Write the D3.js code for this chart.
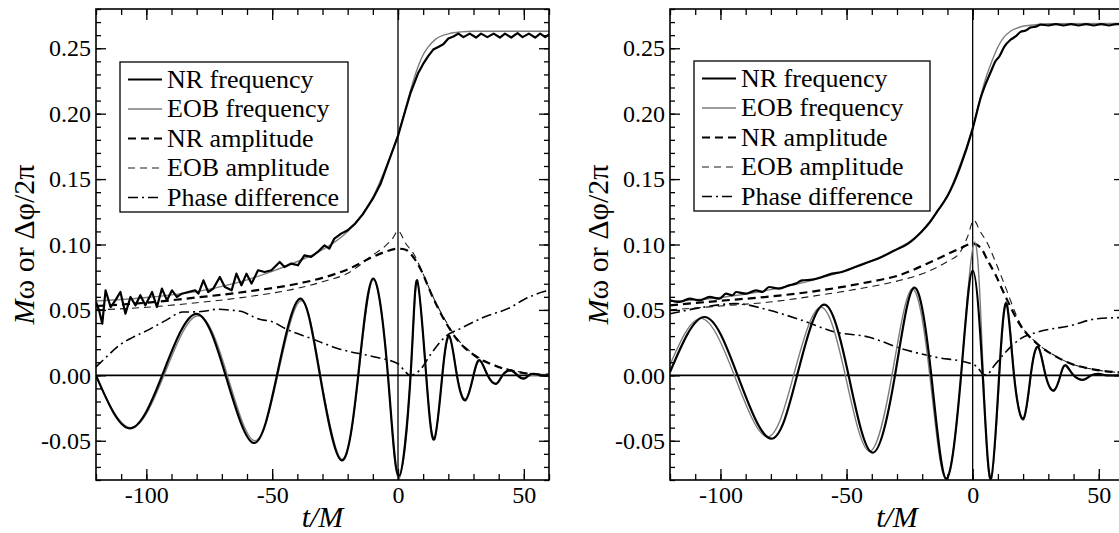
<!DOCTYPE html>
<html><head><meta charset="utf-8">
<script src="https://cdn.jsdelivr.net/npm/d3@7"></script>
</head><body style="margin:0;background:#fff">
<svg id="chart" width="1119" height="533" font-family="Liberation Serif" style="display:block"></svg>
<script>
// ---------------- data (t/M, value) ----------------
const xTickValues = [-100, -50, 0, 50];
const xTickLabels = ["-100", "-50", "0", "50"];
const yTickValues = [-0.05, 0, 0.05, 0.10, 0.15, 0.20, 0.25];
const yTickLabels = ["-0.05", "0.00", "0.05", "0.10", "0.15", "0.20", "0.25"];
const legendLabels = ["NR frequency", "EOB frequency", "NR amplitude", "EOB amplitude", "Phase difference"];
const xDomain = [-120, 60];
const yDomain = [-0.08, 0.28];

// Left panel
const leftFreqNR = [[-120,0.0561],[-118.8,0.0497],[-117.5,0.0395],[-116.2,0.065],[-114.2,0.0522],[-112.3,0.0573],[-110.3,0.0637],[-108.3,0.0471],[-106.3,0.0599],[-104.3,0.0535],[-102.4,0.0612],[-100.4,0.0535],[-97.7,0.0637],[-95.8,0.0522],[-93.8,0.0663],[-91.8,0.0573],[-89.8,0.065],[-87.9,0.0599],[-85.9,0.0624],[-83.3,0.0637],[-80.6,0.065],[-79.3,0.0624],[-77.3,0.0726],[-75.4,0.0637],[-73.4,0.0663],[-70.8,0.0752],[-68.8,0.0675],[-66.1,0.065],[-64.2,0.0777],[-62.2,0.0688],[-60.2,0.0777],[-58.2,0.0701],[-55.6,0.0803],[-53.0,0.079],[-50.3,0.0803],[-47,0.0866],[-45.1,0.0828],[-42.4,0.0854],[-39.8,0.0841],[-37.2,0.0917],[-34.5,0.0905],[-31.9,0.0943],[-29.2,0.0994],[-27.3,0.0968],[-25.3,0.1045],[-22.6,0.1083],[-20,0.1109],[-17,0.116],[-14,0.123],[-10,0.135],[-7,0.146],[-4,0.162],[0,0.183],[3,0.203],[5,0.216],[8,0.231],[10,0.238],[12,0.244],[14,0.249],[16,0.251],[18,0.253],[20,0.2575],[22,0.259],[24,0.2612],[26,0.2585],[28.5,0.2612],[31,0.2582],[33,0.2612],[35.5,0.2585],[38,0.2612],[40.5,0.2582],[42.5,0.2612],[45,0.2582],[47.5,0.2615],[49.5,0.2585],[52,0.2612],[54.5,0.2582],[56.5,0.2612],[58.5,0.2585],[60,0.2605]];
const leftFreqEOB = [[-120,0.0568],[-110,0.058],[-100,0.0595],[-90,0.0615],[-80,0.064],[-70,0.068],[-60,0.073],[-50,0.0795],[-40,0.087],[-30,0.096],[-20,0.110],[-15,0.121],[-10,0.136],[-5,0.158],[0,0.184],[3,0.204],[5,0.218],[8,0.236],[10,0.245],[12,0.251],[15,0.257],[20,0.261],[25,0.2625],[30,0.263],[60,0.263]];
const leftAmpNR = [[-120,0.053],[-100,0.0555],[-80,0.0595],[-60,0.0640],[-40,0.070],[-30,0.0745],[-20,0.081],[-10,0.0905],[-5,0.0945],[0,0.0968],[3,0.096],[6.5,0.0892],[9.2,0.0803],[13.2,0.0624],[18.5,0.042],[23.7,0.0268],[30.3,0.0153],[38.2,0.0076],[47.4,0.0025],[55,0.0008],[60,0.0005]];
const leftAmpEOB = [[-120,0.050],[-100,0.052],[-80,0.0555],[-60,0.060],[-40,0.0665],[-30,0.0715],[-20,0.078],[-10,0.092],[-5,0.099],[-2,0.105],[0,0.1105],[3,0.101],[6.5,0.092],[9.2,0.081],[13.2,0.063],[18.5,0.043],[23.7,0.0275],[30.3,0.016],[38.2,0.008],[47.4,0.003],[55,0.001],[60,0.0005]];
const leftPhase = [[-120,0.0064],[-115.9,0.014],[-110.7,0.023],[-105.4,0.029],[-100,0.034],[-92.2,0.042],[-85.6,0.0484],[-80,0.0485],[-76.4,0.0492],[-72,0.0505],[-66,0.0497],[-62,0.0488],[-58,0.0452],[-55.3,0.043],[-50,0.041],[-44.8,0.0357],[-34.3,0.028],[-23.7,0.0204],[-9.2,0.014],[0,0.0089],[2.7,0.0033],[4.7,0.0],[8.7,0.004],[13.2,0.0166],[18.5,0.029],[25.1,0.036],[34.3,0.0446],[44.8,0.052],[50.1,0.058],[58,0.064],[60,0.065]];
const leftWaveNR = [[-120,0],[-106.7,-0.0405],[-93.7,0],[-80.3,0.047],[-68.5,0],[-57.3,-0.0517],[-48.1,0],[-38.9,0.0586],[-31,0],[-22.4,-0.065],[-15.8,0],[-9.9,0.074],[-4,0],[0.3,-0.077],[5.0,0],[7.6,0.0726],[11.2,0],[14.4,-0.049],[17.6,0],[20.4,0.030],[23.4,0],[26.8,-0.019],[30,0],[32.5,0.0115],[35.6,0],[39,-0.0065],[41.5,0],[44.8,0.0038],[47.5,0],[50,-0.0025],[52,0],[54,0.0012],[57,0],[60,0]];
const leftWaveEOB = [[-120,-0.001],[-106.2,-0.040],[-93.0,0],[-79.6,0.0455],[-67.8,0],[-57.0,-0.050],[-47.8,0],[-38.6,0.057],[-30.8,0],[-22.3,-0.064],[-15.7,0],[-9.8,0.073],[-4,0],[0.3,-0.079],[5.0,0],[7.7,0.071],[11.2,0],[14.5,-0.048],[17.6,0],[20.5,0.029],[23.5,0],[26.9,-0.018],[30.1,0],[32.6,0.011],[35.7,0],[39.1,-0.006],[41.6,0],[44.9,0.0035],[47.6,0],[50.1,-0.002],[53,0],[60,0]];

// Right panel
const rightFreqNR = [[-120,0.0573],[-116.1,0.0561],[-112.2,0.0586],[-108.3,0.0573],[-104.3,0.0599],[-100.4,0.0586],[-97.8,0.0624],[-95.2,0.0612],[-93.8,0.0637],[-89.9,0.0624],[-85.9,0.065],[-83.3,0.0637],[-80.7,0.0675],[-76.8,0.0663],[-72.8,0.0688],[-70.2,0.0701],[-67.6,0.0726],[-63.7,0.0731],[-59.7,0.0752],[-55.8,0.0777],[-51.9,0.079],[-46.6,0.0828],[-41.3,0.0866],[-36.1,0.0905],[-30.8,0.0956],[-25.6,0.1007],[-20.4,0.1096],[-17,0.117],[-13.8,0.126],[-10,0.137],[-5,0.159],[0,0.1886],[3.3,0.2128],[5,0.222],[7.2,0.232],[9,0.240],[10.5,0.2435],[12.5,0.251],[15,0.2565],[17,0.259],[19,0.2625],[21,0.2635],[23,0.266],[25,0.2665],[27,0.268],[30,0.2675],[33,0.2685],[36,0.2675],[39,0.2685],[42,0.2675],[45,0.2685],[48,0.2675],[51,0.2685],[54,0.2675],[57,0.2685],[60,0.268]];
const rightFreqEOB = [[-120,0.0565],[-100,0.0595],[-80,0.0655],[-60,0.0745],[-40,0.0875],[-30,0.0965],[-20,0.110],[-14,0.125],[-10,0.137],[-5,0.161],[0,0.189],[3.3,0.214],[5,0.226],[7.2,0.238],[10,0.251],[12.5,0.2587],[15,0.263],[19,0.2663],[25,0.268],[30,0.2688],[60,0.269]];
const rightAmpNR = [[-120,0.0535],[-100,0.057],[-81.7,0.060],[-60,0.065],[-41.3,0.0713],[-30,0.076],[-15.1,0.088],[-5,0.097],[0,0.1007],[3,0.098],[5.9,0.088],[9,0.077],[12.5,0.0624],[19,0.038],[25.6,0.024],[32.2,0.0153],[38.8,0.009],[46.7,0.005],[55.9,0.0025],[60,0.002]];
const rightAmpEOB = [[-120,0.050],[-100,0.053],[-80.6,0.056],[-60,0.0615],[-41.3,0.0675],[-30,0.072],[-15.1,0.0816],[-10,0.087],[-5,0.094],[-2,0.106],[0.4,0.1185],[3,0.110],[5.9,0.1007],[9,0.087],[12.5,0.070],[19,0.039],[25.6,0.0245],[32.2,0.0155],[38.8,0.009],[46.7,0.005],[55.9,0.0025],[60,0.002]];
const rightPhase = [[-120,0.047],[-107,0.052],[-94,0.0548],[-80.6,0.0497],[-67.6,0.042],[-54.5,0.0331],[-41.3,0.0293],[-28.2,0.0204],[-15,0.014],[-0.7,0.009],[2,0.006],[4,0.001],[5.5,0.0],[8,0.006],[12.5,0.0166],[19,0.028],[25.6,0.033],[38.8,0.038],[49.3,0.0433],[60,0.0442]];
const rightWaveNR = [[-120,0.0025],[-106.3,0.0446],[-93.2,0],[-80,-0.0484],[-69.6,0],[-59,0.054],[-49.2,0],[-39.8,-0.0591],[-30.8,0],[-23.2,0.067],[-16.4,0],[-10.5,-0.079],[-4.6,0],[0,0.080],[4.0,0],[7.2,-0.079],[10.5,0],[13.4,0.0548],[16.4,0],[20.1,-0.0331],[23,0],[25.9,0.0217],[28.9,0],[32.2,-0.0115],[34.8,0],[36.8,0.0076],[40,0],[44,-0.0033],[47,0],[50.5,0.001],[53,0],[60,0]];
const rightWaveEOB = [[-120,0.008],[-107.5,0.0435],[-94.5,0],[-81.5,-0.047],[-71,0],[-60.3,0.052],[-50.5,0],[-41,-0.058],[-32,0],[-24,0.066],[-17,0],[-10.8,-0.079],[-4.6,0],[0.8,0.102],[4.2,0],[7.3,-0.081],[10.6,0],[13.5,0.056],[16.5,0],[20.2,-0.034],[23.1,0],[26,0.022],[29,0],[32.3,-0.012],[34.9,0],[37,0.008],[40.1,0],[44.1,-0.0035],[47.1,0],[50.6,0.001],[53,0],[60,0]];

// ---------------- layout / styles ----------------
const FONT = "Liberation Serif";
const svg = d3.select("#chart");
const plotTop = 9, plotBottom = 480;
const styles = {
  freqNR:  {stroke: "#000", width: 2.2, dash: null},
  freqEOB: {stroke: "#7c7c7c", width: 1.4, dash: null},
  ampNR:   {stroke: "#000", width: 2.2, dash: "8,5"},
  ampEOB:  {stroke: "#1a1a1a", width: 1.1, dash: "7,5"},
  phase:   {stroke: "#000", width: 1.6, dash: "10,4,2,4"}
};
const legendKeys = ["freqNR", "freqEOB", "ampNR", "ampEOB", "phase"];

const panels = [
  {x0: 96, x1: 549, labelX: 34, legend: {x: 120, y: 62, w: 228, h: 150},
   series: [
     {d: leftPhase, s: "phase", curve: d3.curveMonotoneX},
     {d: leftAmpEOB, s: "ampEOB", curve: d3.curveMonotoneX},
     {d: leftAmpNR, s: "ampNR", curve: d3.curveMonotoneX},
     {d: leftWaveEOB, s: "freqEOB", curve: d3.curveNatural},
     {d: leftWaveNR, s: "freqNR", curve: d3.curveNatural},
     {d: leftFreqEOB, s: "freqEOB", curve: d3.curveMonotoneX},
     {d: leftFreqNR, s: "freqNR", curve: d3.curveLinear}
   ]},
  {x0: 670, x1: 1124, labelX: 608, legend: {x: 694, y: 61, w: 236, h: 150},
   series: [
     {d: rightPhase, s: "phase", curve: d3.curveMonotoneX},
     {d: rightAmpEOB, s: "ampEOB", curve: d3.curveMonotoneX},
     {d: rightAmpNR, s: "ampNR", curve: d3.curveMonotoneX},
     {d: rightWaveEOB, s: "freqEOB", curve: d3.curveNatural},
     {d: rightWaveNR, s: "freqNR", curve: d3.curveNatural},
     {d: rightFreqEOB, s: "freqEOB", curve: d3.curveMonotoneX},
     {d: rightFreqNR, s: "freqNR", curve: d3.curveMonotoneX}
   ]}
];

function minorTicks(domain, step) {
  const out = [];
  for (let v = Math.ceil(domain[0] / step - 1e-9); v * step <= domain[1] + 1e-9; v++) out.push(+(v * step).toFixed(4));
  return out;
}
const xMinor = minorTicks(xDomain, 10);
const yMinor = minorTicks(yDomain, 0.01);

panels.forEach((p, i) => {
  const x = d3.scaleLinear().domain(xDomain).range([p.x0, p.x1]);
  const y = d3.scaleLinear().domain(yDomain).range([plotBottom, plotTop]);
  const g = svg.append("g").attr("font-family", FONT);
  const clipId = "clip" + i;
  svg.append("clipPath").attr("id", clipId).append("rect")
    .attr("x", p.x0).attr("y", plotTop).attr("width", p.x1 - p.x0).attr("height", plotBottom - plotTop);

  const plot = g.append("g").attr("clip-path", `url(#${clipId})`);
  plot.append("line").attr("x1", p.x0).attr("x2", p.x1).attr("y1", y(0)).attr("y2", y(0))
    .attr("stroke", "#000").attr("stroke-width", 1.6);
  plot.append("line").attr("x1", x(0)).attr("x2", x(0)).attr("y1", plotTop).attr("y2", plotBottom)
    .attr("stroke", "#000").attr("stroke-width", 1.3);

  p.series.forEach(se => {
    const st = styles[se.s];
    const line = d3.line().x(d => x(d[0])).y(d => y(d[1])).curve(se.curve);
    plot.append("path").datum(se.d).attr("d", line)
      .attr("fill", "none").attr("stroke", st.stroke).attr("stroke-width", st.width)
      .attr("stroke-dasharray", st.dash).attr("stroke-linejoin", "round");
  });

  const fmtX = d => xTickLabels[xTickValues.indexOf(d)];
  const fmtY = d => yTickLabels[yTickValues.findIndex(v => Math.abs(v - d) < 1e-9)];
  const axB = g.append("g").attr("transform", `translate(0,${plotBottom})`)
    .call(d3.axisBottom(x).tickValues(xTickValues).tickSizeInner(-11).tickSizeOuter(0).tickPadding(6).tickFormat(fmtX));
  const axBm = g.append("g").attr("transform", `translate(0,${plotBottom})`)
    .call(d3.axisBottom(x).tickValues(xMinor).tickSizeInner(-6).tickSizeOuter(0).tickFormat(""));
  const axT = g.append("g").attr("transform", `translate(0,${plotTop})`)
    .call(d3.axisTop(x).tickValues(xTickValues).tickSizeInner(-11).tickSizeOuter(0).tickFormat(""));
  const axTm = g.append("g").attr("transform", `translate(0,${plotTop})`)
    .call(d3.axisTop(x).tickValues(xMinor).tickSizeInner(-6).tickSizeOuter(0).tickFormat(""));
  const axL = g.append("g").attr("transform", `translate(${p.x0},0)`)
    .call(d3.axisLeft(y).tickValues(yTickValues).tickSizeInner(-10).tickSizeOuter(0).tickPadding(5).tickFormat(fmtY));
  const axLm = g.append("g").attr("transform", `translate(${p.x0},0)`)
    .call(d3.axisLeft(y).tickValues(yMinor).tickSizeInner(-5).tickSizeOuter(0).tickFormat(""));
  const axR = g.append("g").attr("transform", `translate(${p.x1},0)`)
    .call(d3.axisRight(y).tickValues(yTickValues).tickSizeInner(-10).tickSizeOuter(0).tickFormat(""));
  const axRm = g.append("g").attr("transform", `translate(${p.x1},0)`)
    .call(d3.axisRight(y).tickValues(yMinor).tickSizeInner(-5).tickSizeOuter(0).tickFormat(""));
  [axB, axBm, axT, axTm, axL, axLm, axR, axRm].forEach(a => {
    a.attr("font-family", FONT).attr("font-size", 24);
    a.select(".domain").remove();
    a.selectAll("line").attr("stroke", "#000").attr("stroke-width", 1.3);
    a.selectAll("text").attr("fill", "#000").attr("font-family", FONT).attr("font-size", 24);
  });

  g.append("rect").attr("x", p.x0).attr("y", plotTop).attr("width", p.x1 - p.x0).attr("height", plotBottom - plotTop)
    .attr("fill", "none").attr("stroke", "#000").attr("stroke-width", 1.6);

  g.append("text").attr("x", (p.x0 + p.x1) / 2).attr("y", 527)
    .attr("text-anchor", "middle").attr("font-family", FONT).attr("font-size", 30)
    .attr("font-style", "italic").attr("fill", "#000").text("t/M");
  const yt = g.append("text").attr("transform", `translate(${p.labelX},${(plotTop + plotBottom) / 2}) rotate(-90)`)
    .attr("text-anchor", "middle").attr("font-family", FONT).attr("font-size", 30).attr("fill", "#000");
  yt.append("tspan").attr("font-style", "italic").text("M");
  yt.append("tspan").text("ω or Δφ/2π");

  const L = p.legend;
  const lg = g.append("g");
  lg.append("rect").attr("x", L.x).attr("y", L.y).attr("width", L.w).attr("height", L.h)
    .attr("fill", "#fff").attr("stroke", "#000").attr("stroke-width", 1.3);
  legendLabels.forEach((lab, k) => {
    const base = L.y + 25.5 + k * 29.5;
    const st = styles[legendKeys[k]];
    lg.append("line").attr("x1", L.x + 8).attr("x2", L.x + 42).attr("y1", base - 8).attr("y2", base - 8)
      .attr("stroke", st.stroke).attr("stroke-width", st.width).attr("stroke-dasharray", st.dash);
    lg.append("text").attr("x", L.x + 47).attr("y", base).attr("font-family", FONT).attr("font-size", 26)
      .attr("fill", "#000").text(lab);
  });
});
</script>
</body></html>
